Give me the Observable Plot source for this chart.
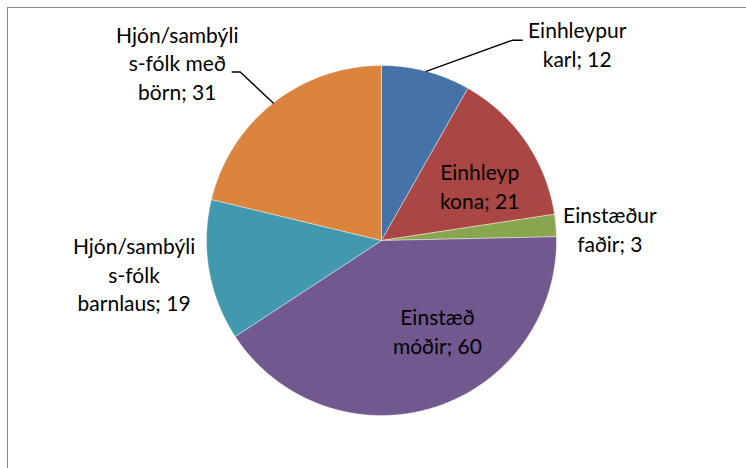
<!DOCTYPE html>
<html>
<head>
<meta charset="utf-8">
<script src="https://cdn.jsdelivr.net/npm/d3@7"></script>
<script src="https://cdn.jsdelivr.net/npm/@observablehq/plot@0.6"></script>
<style>
  html, body { margin: 0; padding: 0; background: #fff; }
  #wrap { position: relative; width: 746px; height: 468px; overflow: hidden; }
  #border { position: absolute; left: 7px; top: 7px; width: 800px; height: 600px;
            border-top: 1.5px solid #8a8a8a; border-left: 1.5px solid #8a8a8a; }
  #chart { position: absolute; left: 0; top: 0; }
</style>
</head>
<body>
<div id="wrap"><div id="border"></div><div id="chart"></div></div>
<script>
// ---- data ----
const categories = ["Einhleypur karl", "Einhleyp kona", "Einstæður faðir", "Einstæð móðir",
                    "Hjón/sambýlisfólk barnlaus", "Hjón/sambýlisfólk með börn"];
const values = [12, 21, 3, 60, 19, 31];
const labelNames = ["Einhleypur\nkarl", "Einhleyp\nkona", "Einstæður\nfaðir", "Einstæð\nmóðir",
                    "Hjón/sambýli\ns-fólk\nbarnlaus", "Hjón/sambýli\ns-fólk með\nbörn"];

// ---- style / layout ----
const colors = ["#4572A7", "#AA4643", "#89A54E", "#71588F", "#4198AF", "#DB843D"];
const W = 746, H = 468, cx = 381, cy = 240, R = 175;
// label offsets from the slice's outer mid-point, in pixels
const labelOffsets = [[151, -28], [-46, 44], [54, 3], [4, -77], [-75, 3], [-96, -41]];
// leader-line elbow offsets (pixels) for outside labels that have leaders
const leaders = {0: [[86, -31], [96, -31]], 5: [[-33, -31], [-41, -31]]};

const pie = d3.pie().sort(null).value(d => d)(values);

const marks = [];
pie.forEach((s, i) => {
  const pts = [{x: 0, y: 0}];
  const n = Math.max(2, Math.ceil((s.endAngle - s.startAngle) / (Math.PI / 360)));
  for (let k = 0; k <= n; k++) {
    const a = s.startAngle + (s.endAngle - s.startAngle) * k / n;
    pts.push({x: Math.sin(a), y: Math.cos(a)});
  }
  pts.push({x: 0, y: 0});
  marks.push(Plot.line(pts, {x: "x", y: "y", fill: colors[i], stroke: "#ffffff", strokeWidth: 0.6, strokeOpacity: 0.7}));
});

const labels = pie.map((s, i) => {
  const a = (s.startAngle + s.endAngle) / 2;
  return {
    i, a,
    ex: Math.sin(a), ey: Math.cos(a),
    text: labelNames[i] + "; " + values[i]
  };
});

Object.entries(leaders).forEach(([k, offs]) => {
  const L = labels[+k];
  const pts = [{x: L.ex, y: L.ey}].concat(offs.map(([dx, dy]) => ({x: L.ex + dx / R, y: L.ey - dy / R})));
  marks.push(Plot.line(pts, {x: "x", y: "y", stroke: "#000", strokeWidth: 1.4}));
});

labels.forEach((L, i) => {
  marks.push(Plot.text([L], {
    x: "ex", y: "ey", text: "text",
    dx: labelOffsets[i][0], dy: labelOffsets[i][1],
    textAnchor: "middle", lineAnchor: "middle", lineHeight: 1.36,
    fontSize: 21, fill: "#000"
  }));
});

const chart = Plot.plot({
  width: W, height: H,
  margin: 0,
  x: {domain: [-cx / R, (W - cx) / R], axis: null},
  y: {domain: [-(H - cy) / R, cy / R], axis: null},
  style: {fontFamily: "Lato, 'Open Sans', sans-serif", background: "transparent"},
  marks
});
document.getElementById("chart").appendChild(chart);
</script>
</body>
</html>
